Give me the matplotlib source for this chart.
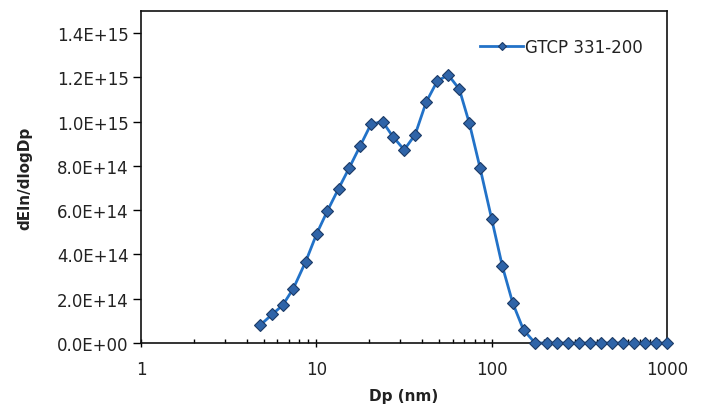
import matplotlib.pyplot as plt
from matplotlib.ticker import FixedLocator, LogLocator, NullFormatter, FuncFormatter

# particle diameter (nm) and number size distribution
dp = [4.77, 5.61, 6.43, 7.39, 8.70, 10.05, 11.55, 13.4, 15.4, 17.8,
      20.5, 23.9, 27.3, 31.7, 36.6, 42.3, 49.0, 56.6, 65.4, 74.6,
      85.9, 100, 115, 132, 152, 177, 206, 237, 274, 316,
      364, 421, 484, 560, 649, 750, 867, 1000]
dn = [0.80e14, 1.30e14, 1.71e14, 2.46e14, 3.68e14, 4.94e14, 5.96e14, 6.98e14, 7.91e14, 8.91e14,
      9.89e14, 10.0e14, 9.33e14, 8.73e14, 9.41e14, 10.88e14, 11.84e14, 12.11e14, 11.47e14, 9.93e14,
      7.91e14, 5.61e14, 3.48e14, 1.80e14, 0.59e14, 0, 0, 0, 0, 0,
      0, 0, 0, 0, 0, 0, 0, 0]
series_name = 'GTCP 331-200'

x_ticks = [1, 10, 100, 1000]
y_ticks = [0, 2e14, 4e14, 6e14, 8e14, 10e14, 12e14, 14e14]

plt.rcParams['font.family'] = 'DejaVu Sans'
text_color = '#222222'

fig = plt.figure(figsize=(7.04, 4.14), dpi=100)
ax = fig.add_axes([0.2003, 0.169, 0.7471, 0.802])

ax.plot(dp, dn, color='#2272c8', linewidth=2, marker='D', markersize=6.3,
        markerfacecolor='#2f64a8', markeredgecolor='#1c3a66', markeredgewidth=0.8,
        label=series_name, clip_on=False, zorder=3)

ax.set_xscale('log')
ax.set_xlim(1, 1000)
ax.set_ylim(0, 1.5e15)

ax.xaxis.set_major_locator(FixedLocator(x_ticks))
ax.xaxis.set_major_formatter(FuncFormatter(lambda v, p: '%d' % v))
ax.xaxis.set_minor_locator(LogLocator(base=10, subs=range(2, 10)))
ax.xaxis.set_minor_formatter(NullFormatter())
ax.yaxis.set_major_locator(FixedLocator(y_ticks))
ax.yaxis.set_major_formatter(FuncFormatter(lambda v, p: '%.1E' % v))

ax.tick_params(axis='x', which='major', direction='inout', length=6, width=1,
               pad=9, labelsize=12, labelcolor=text_color)
ax.tick_params(axis='x', which='minor', direction='in', length=3, width=1)
ax.tick_params(axis='y', which='major', direction='out', length=6, width=1,
               pad=3, labelsize=12, labelcolor=text_color)

for side in ax.spines:
    ax.spines[side].set_linewidth(1.2)
    ax.spines[side].set_color('#111111')

ax.set_xlabel('Dp (nm)', fontsize=11, fontweight='bold', color=text_color)
ax.set_ylabel('dEln/dlogDp', fontsize=11, fontweight='bold', color=text_color)
ax.xaxis.set_label_coords(0.5, -0.135)
ax.yaxis.set_label_coords(-0.207, 0.5)

leg = ax.legend(loc='upper right', bbox_to_anchor=(0.97, 0.945), frameon=False,
                fontsize=12, handlelength=2.6, handletextpad=0.1, borderpad=0,
                markerscale=0.7)
for t in leg.get_texts():
    t.set_color(text_color)

fig.savefig('out.png', dpi=100)
plt.close()
